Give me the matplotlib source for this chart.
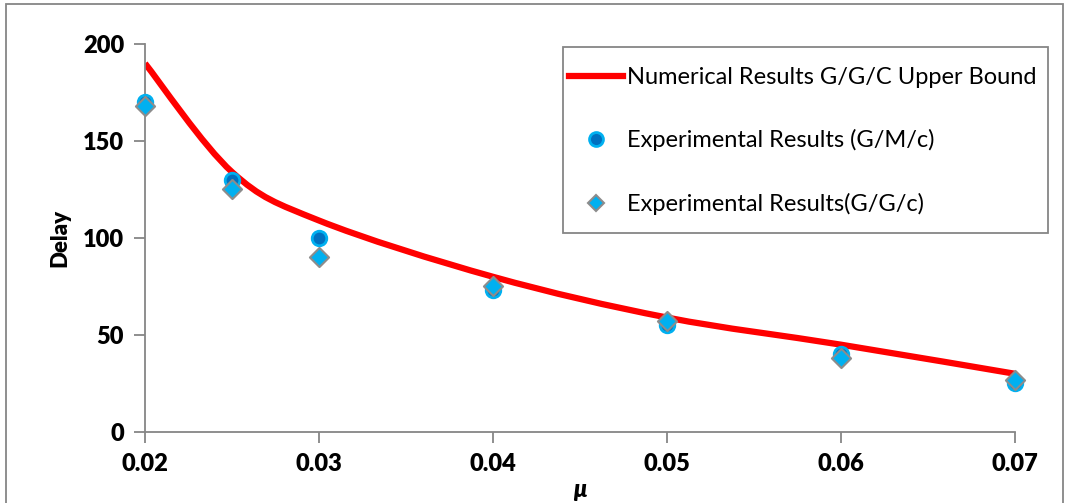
import numpy as np
import matplotlib.pyplot as plt
from matplotlib.path import Path
from matplotlib.patches import PathPatch, Rectangle
from matplotlib.lines import Line2D

plt.rcParams['font.family'] = ['Lato', 'DejaVu Sans']

# data
mu = [0.02, 0.025, 0.03, 0.04, 0.05, 0.06, 0.07]
upper_bound = [190, 134, 109, 80, 59, 45, 30]
exp_gmc = [170, 130, 100, 73, 55, 40, 25]
exp_ggc = [168, 125, 90, 75, 57, 38, 27]
x_ticks = [0.02, 0.03, 0.04, 0.05, 0.06, 0.07]
y_ticks = [0, 50, 100, 150, 200]

fig = plt.figure(figsize=(10.68, 5.03), dpi=100)
ax = fig.add_axes([0.1358, 0.1412, 0.8146, 0.7713])

# smoothed line (Excel-style bezier through the points)
pts = np.column_stack([mu, upper_bound]).astype(float)
verts = [pts[0]]
codes = [Path.MOVETO]
n = len(pts)
for i in range(n - 1):
    p0 = pts[i - 1] if i > 0 else pts[i]
    p1 = pts[i]
    p2 = pts[i + 1]
    p3 = pts[i + 2] if i + 2 < n else pts[i + 1]
    c1 = p1 + (p2 - p0) / 6
    c2 = p2 - (p3 - p1) / 6
    verts += [c1, c2, p2]
    codes += [Path.CURVE4] * 3
ax.add_patch(PathPatch(Path(verts, codes), facecolor='none', edgecolor='#FF0000',
                       lw=4.5, capstyle='butt', zorder=2))

ax.scatter(mu, exp_gmc, s=110, marker='o', facecolor='#0070C0', edgecolor='#00B0F0',
           linewidths=2, zorder=3, clip_on=False)
ax.scatter(mu, exp_ggc, s=95, marker='D', facecolor='#00B0F0', edgecolor='#8C8C8C',
           linewidths=1.5, zorder=4, clip_on=False)

ax.set_xlim(0.02, 0.07)
ax.set_ylim(0, 200)
ax.set_xticks(x_ticks)
ax.set_xticklabels(['%.2f' % t for t in x_ticks])
ax.set_yticks(y_ticks)
for s in ['top', 'right']:
    ax.spines[s].set_visible(False)
for s in ['left', 'bottom']:
    ax.spines[s].set_color('#868686')
    ax.spines[s].set_linewidth(1.3)
ax.tick_params(axis='both', direction='out', length=8, width=1.3, color='#868686',
               labelsize=17, pad=7)
for lab in ax.get_xticklabels() + ax.get_yticklabels():
    lab.set_fontweight('heavy')

ax.set_ylabel('Delay', fontsize=16, fontweight='heavy', labelpad=9)
ax.set_xlabel('μ', fontsize=17, fontweight='heavy', fontstyle='italic', labelpad=2)

handles = [
    Line2D([], [], color='#FF0000', lw=4.5),
    Line2D([], [], ls='none', marker='o', ms=10, mfc='#0070C0', mec='#00B0F0', mew=2),
    Line2D([], [], ls='none', marker='D', ms=8, mfc='#00B0F0', mec='#8C8C8C', mew=1.5),
]
labels = ['Numerical Results G/G/C Upper Bound',
          'Experimental Results (G/M/c)',
          'Experimental Results(G/G/c)']
leg = fig.legend(handles, labels, loc='upper left',
                 bbox_to_anchor=(569 / 1068, 1 - 67 / 503),
                 fontsize=17, frameon=False,
                 handlelength=2.3, handletextpad=0.17, labelspacing=1.75,
                 borderaxespad=0, borderpad=0)

# legend frame, drawn on its own so the padding matches the original
fig.add_artist(Rectangle((563 / 1068, 1 - 233 / 503), 485 / 1068, 186 / 503,
                         transform=fig.transFigure, fill=False,
                         edgecolor='#868686', lw=1.3))

# outer chart border
fig.add_artist(Rectangle((6 / 1068, -0.05), 1057 / 1068, 1.05 - 4 / 503,
                         transform=fig.transFigure, fill=False,
                         edgecolor='#868686', lw=1.3))

fig.savefig('out.png', dpi=100)
